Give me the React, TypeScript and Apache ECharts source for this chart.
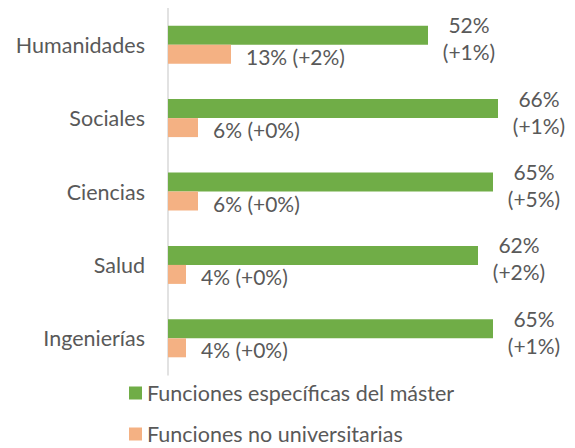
import React, { useEffect, useRef } from "react";
import * as echarts from "echarts";

const categories = ["Humanidades", "Sociales", "Ciencias", "Salud", "Ingenierías"];
const masterValues = [52, 66, 65, 62, 65];
const masterDeltas = ["+1%", "+1%", "+5%", "+2%", "+1%"];
const noUnivValues = [12.6, 6, 6, 3.6, 3.6];
const noUnivLabels = ["13%", "6%", "6%", "4%", "4%"];
const noUnivDeltas = ["+2%", "+0%", "+0%", "+0%", "+0%"];
const seriesNames = ["Funciones específicas del máster", "Funciones no universitarias"];

const FONT = "Lato";
const TEXT = "#595959";

export default function App() {
  const ref = useRef<HTMLDivElement>(null);
  useEffect(() => {
    if (!ref.current) return;
    const chart = echarts.init(ref.current, undefined, { renderer: "svg" });
    const legendBase = {
      orient: "vertical",
      left: 121,
      padding: 0,
      itemWidth: 13,
      itemHeight: 13,
      icon: "rect",
      textStyle: { fontFamily: FONT, fontSize: 21.5, color: TEXT },
    };
    chart.setOption({
      animation: false,
      grid: { left: 160, top: 0, width: 400, height: 367 },
      legend: [
        { ...legendBase, top: 374, data: [seriesNames[0]] },
        { ...legendBase, top: 415, data: [seriesNames[1]] },
      ],
      xAxis: { type: "value", min: 0, max: 80, show: false },
      yAxis: {
        type: "category",
        data: categories,
        inverse: true,
        axisLine: { lineStyle: { color: "#d9d9d9", width: 1.5 } },
        axisTick: { show: false },
        axisLabel: { margin: 23, fontFamily: FONT, fontSize: 21.5, color: TEXT },
      },
      series: [
        {
          name: seriesNames[0],
          type: "bar",
          data: masterValues,
          barWidth: 19,
          barGap: "0%",
          itemStyle: { color: "#70AD47" },
          label: {
            show: true,
            position: "right",
            distance: 41,
            align: "center",
            offset: [0, 3],
            lineHeight: 27,
            fontFamily: FONT,
            fontSize: 21,
            color: TEXT,
            formatter: (p: any) => `${masterValues[p.dataIndex]}%\n(${masterDeltas[p.dataIndex]})`,
          },
        },
        {
          name: seriesNames[1],
          type: "bar",
          data: noUnivValues,
          barWidth: 19,
          barGap: "0%",
          itemStyle: { color: "#F4B183" },
          label: {
            show: true,
            position: "right",
            distance: 15,
            offset: [0, 2],
            fontFamily: FONT,
            fontSize: 21,
            color: TEXT,
            formatter: (p: any) => `${noUnivLabels[p.dataIndex]} (${noUnivDeltas[p.dataIndex]})`,
          },
        },
      ],
    });
    return () => chart.dispose();
  }, []);
  return <div ref={ref} style={{ width: 567, height: 440 }} />;
}
